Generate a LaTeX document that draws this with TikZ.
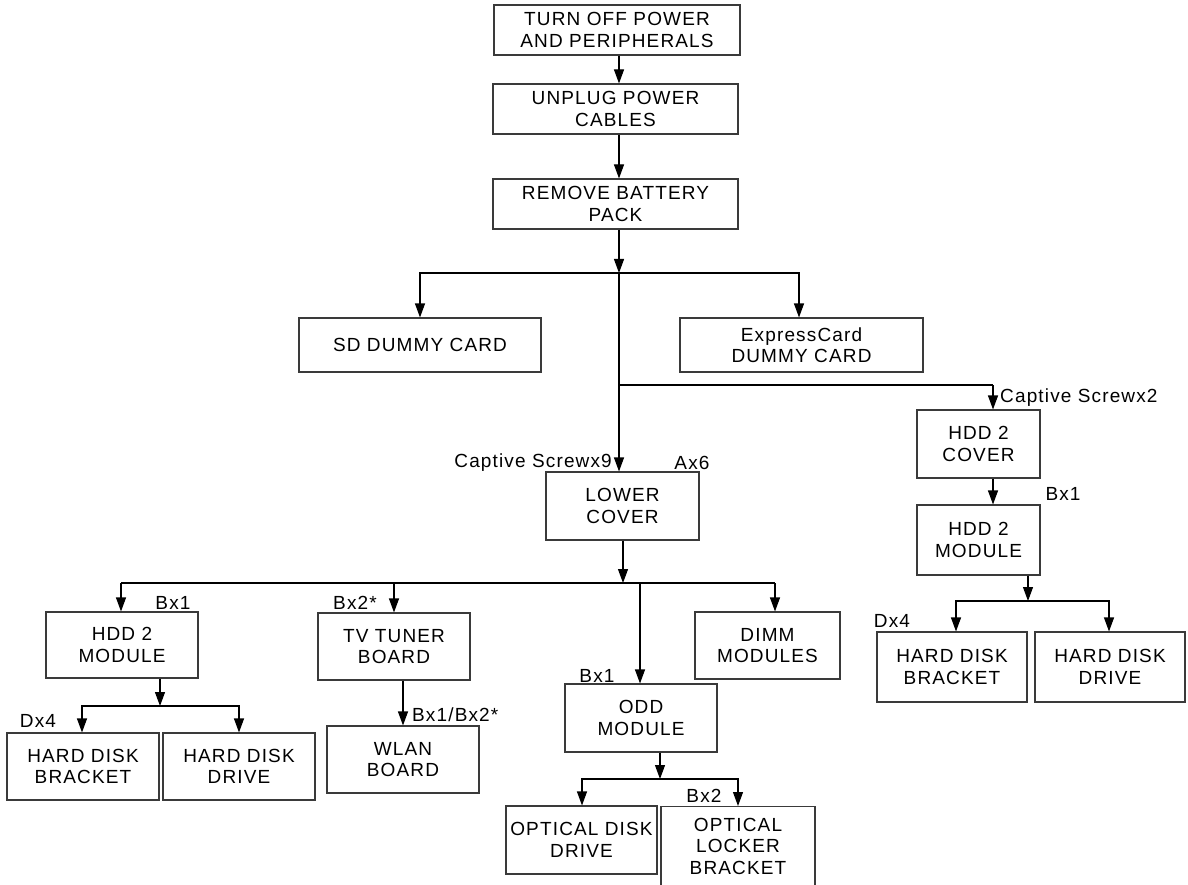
\documentclass[tikz,border=0pt]{standalone}
\usepackage{fontspec}
\setmainfont{Liberation Sans}[LetterSpace=6]
\usetikzlibrary{arrows.meta}
\definecolor{boxgray}{HTML}{3A3A3A}
\begin{document}
\begin{tikzpicture}[x=1pt,y=-1pt,
  box/.style={draw=boxgray,line width=1.1pt,align=center,inner sep=0pt,
    font=\fontsize{19}{21.5}\selectfont},
  lbl/.style={inner sep=0pt,font=\fontsize{19}{21.5}\selectfont},
  con/.style={line width=1.1pt,draw=black},
  arr/.style={con,-{Triangle[length=14pt,width=10pt]}}]
\useasboundingbox (0,0) rectangle (1188,885);
\clip (0,0) rectangle (1188,885);
% boxes
\node[box,minimum width=246,minimum height=50] (top) at (617,30) {TURN OFF POWER\\AND PERIPHERALS};
\node[box,minimum width=245,minimum height=50] (unp) at (615.5,109) {UNPLUG POWER\\CABLES};
\node[box,minimum width=245,minimum height=50] (rem) at (615.5,204) {REMOVE BATTERY\\PACK};
\node[box,minimum width=242,minimum height=54] (sd) at (420,345) {SD DUMMY CARD};
\node[box,minimum width=243,minimum height=54] (exp) at (801.5,345) {ExpressCard\\DUMMY CARD};
\node[box,minimum width=153,minimum height=68] (low) at (622.5,506) {LOWER\\COVER};
\node[box,minimum width=123,minimum height=68] (cov) at (978.5,444) {HDD 2\\COVER};
\node[box,minimum width=123,minimum height=70] (modr) at (978.5,540) {HDD 2\\MODULE};
\node[box,minimum width=150,minimum height=70] (hdbr) at (952,667) {HARD DISK\\BRACKET};
\node[box,minimum width=150,minimum height=70] (hddr) at (1110,667) {HARD DISK\\DRIVE};
\node[box,minimum width=152,minimum height=66] (modl) at (122,645) {HDD 2\\MODULE};
\node[box,minimum width=152,minimum height=67] (hdbl) at (83,766.5) {HARD DISK\\BRACKET};
\node[box,minimum width=152,minimum height=67] (hddl) at (239,766.5) {HARD DISK\\DRIVE};
\node[box,minimum width=152,minimum height=67] (tv) at (394,646.5) {TV TUNER\\BOARD};
\node[box,minimum width=152,minimum height=67] (wlan) at (403,759.5) {WLAN\\BOARD};
\node[box,minimum width=145,minimum height=67] (dimm) at (767.5,645.5) {DIMM\\MODULES};
\node[box,minimum width=152,minimum height=68] (odd) at (641,718) {ODD\\MODULE};
\node[box,minimum width=151,minimum height=68] (odr) at (581.5,840) {OPTICAL DISK\\DRIVE};
\node[box,minimum width=154,minimum height=100,anchor=north] (olk) at (738,806) {};
\node[lbl,align=center] (olkt) at (738,846) {OPTICAL\\LOCKER\\BRACKET};
% junctions
\coordinate (j1) at (619,273);
\coordinate (j2) at (619,385);
\coordinate (c2) at (993,385);
\coordinate (j3) at (623,583);
\coordinate (jo) at (640,583);
\coordinate (jl) at (121,583);
\coordinate (jt) at (394,583);
\coordinate (jd) at (775,583);
\coordinate (jr) at (1028,601);
\coordinate (jl2) at (160,706);
\coordinate (jod) at (660,779);
% connectors
\draw[arr] (top.south -| j1) -- (unp.north -| j1);
\draw[arr] (unp.south -| j1) -- (rem.north -| j1);
\draw[arr] (rem.south -| j1) -- (j1);
\draw[arr] (j1) -| (sd.north);
\draw[arr] (j1) -| (exp.north -| 799,0);
\draw[arr] (j1) -- (low.north -| j1);
\draw[con] (j2) -- (c2);
\draw[arr] (c2) -- (cov.north -| c2);
\draw[arr] (cov.south -| c2) -- (modr.north -| c2);
\draw[arr] (modr.south -| jr) -- (jr);
\draw[arr] (jr) -| (hdbr.north -| 956,0);
\draw[arr] (jr) -| (hddr.north -| 1109,0);
\draw[arr] (low.south -| j3) -- (j3);
\draw[con] (jl) -- (jd);
\draw[arr] (jl) -- (modl.north -| jl);
\draw[arr] (jt) -- (tv.north -| jt);
\draw[arr] (jo) -- (odd.north -| jo);
\draw[arr] (jd) -- (dimm.north -| jd);
\draw[arr] (modl.south -| jl2) -- (jl2);
\draw[arr] (jl2) -| (hdbl.north -| 82,0);
\draw[arr] (jl2) -| (hddl.north -| 239,0);
\draw[arr] (tv.south -| wlan.north) -- (wlan.north);
\draw[arr] (odd.south -| jod) -- (jod);
\draw[arr] (jod) -| (odr.north -| 582,0);
\draw[arr] (jod) -| (olk.north -| 738,0);
% labels
\node[lbl,anchor=east] (l1) at (612,463) {Captive Screwx9};
\node[lbl] (l2) at (692,463) {Ax6};
\node[lbl,anchor=west] (l3) at (1000,398) {Captive Screwx2};
\node[lbl] (l4) at (1063,494) {Bx1};
\node[lbl] (l5) at (892,621) {Dx4};
\node[lbl] (l6) at (173,603) {Bx1};
\node[lbl] (l7) at (355,603) {Bx2*};
\node[lbl] (l8) at (38,721) {Dx4};
\node[lbl,anchor=west] (l9) at (412,715) {Bx1/Bx2*};
\node[lbl] (l10) at (597,676) {Bx1};
\node[lbl] (l11) at (704,796) {Bx2};
\end{tikzpicture}
\end{document}
